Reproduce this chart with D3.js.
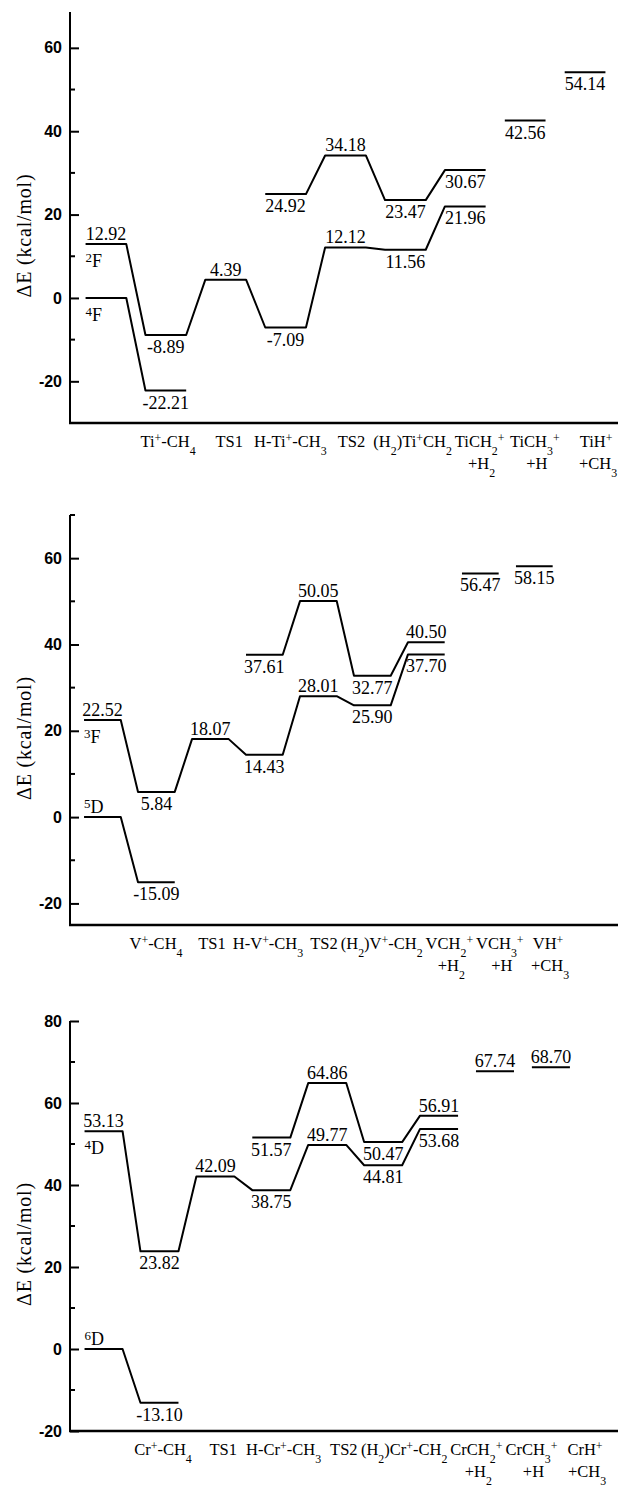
<!DOCTYPE html>
<html>
<head>
	<meta charset="utf-8">
	<title>Potential energy profiles M+ + CH4</title>
	<style>
		html, body { margin: 0; background: white; }
		svg { display: block; }
		text { font-family: "Liberation Serif", "Times New Roman", serif; fill: black; }
		.tick text { font-family: "Liberation Sans", Arial, sans-serif; font-weight: bold; }
	</style>
	<script src="https://cdn.jsdelivr.net/npm/d3@7"></script>
</head>
<body>
	<svg id="svg" width="626" height="1489"></svg>
	<script>
		// ---- data (kcal/mol), one array per path, slot = position along reaction coordinate
		const tiLow = [0, -22.21];                                     // 4F, slots 0-1
		const tiMid = [12.92, -8.89, 4.39, -7.09, 12.12, 11.56, 21.96];  // 2F, slots 0-6
		const tiHigh = [24.92, 34.18, 23.47, 30.67];                    // slots 3-6
		const tiProd = [42.56, 54.14];                                  // slots 7-8

		const vLow = [0, -15.09];
		const vMid = [22.52, 5.84, 18.07, 14.43, 28.01, 25.90, 37.70];
		const vHigh = [37.61, 50.05, 32.77, 40.50];
		const vProd = [56.47, 58.15];

		const crLow = [0, -13.10];
		const crMid = [53.13, 23.82, 42.09, 38.75, 49.77, 44.81, 53.68];
		const crHigh = [51.57, 64.86, 50.47, 56.91];
		const crProd = [67.74, 68.70];

		const tiNames = ['Ti^+-CH_4', 'TS1', 'H-Ti^+-CH_3', 'TS2', '(H_2)Ti^+CH_2', 'TiCH_2^+', 'TiCH_3^+', 'TiH^+'];
		const vNames = ['V^+-CH_4', 'TS1', 'H-V^+-CH_3', 'TS2', '(H_2)V^+-CH_2', 'VCH_2^+', 'VCH_3^+', 'VH^+'];
		const crNames = ['Cr^+-CH_4', 'TS1', 'H-Cr^+-CH_3', 'TS2', '(H_2)Cr^+-CH_2', 'CrCH_2^+', 'CrCH_3^+', 'CrH^+'];
		const secondRow = ['', '', '', '', '', '+H_2', '+H', '+CH_3'];

		const tiStates = ['^4F', '^2F'];
		const vStates = ['^5D', '^3F'];
		const crStates = ['^6D', '^4D'];

		// ---- layout: where each value label goes (a = above the level, b = below)
		const lowSide = [null, 'b'];
		const tiMidSide = ['a', 'b', 'a', 'b', 'a', 'b', 'b'];
		const tiHighSide = ['b', 'a', 'b', 'b'];
		const vMidSide = ['a', 'b', 'a', 'b', 'a', 'b', 'b'];
		const vHighSide = ['b', 'a', 'b', 'a'];
		const crMidSide = ['a', 'b', 'a', 'b', 'a', 'b', 'b'];
		const crHighSide = ['b', 'a', 'b', 'a'];

		const panels = [
			{
				top: 12, bottom: 423, yDomain: [-30, 68.6], xDomain: [-0.6, 8.55], labelRange: [168, 596],
				names: tiNames, states: tiStates, stateSide: ['b', 'b'],
				paths: [
					{ start: 0, values: tiLow, side: lowSide },
					{ start: 0, values: tiMid, side: tiMidSide },
					{ start: 3, values: tiHigh, side: tiHighSide },
					{ start: 7, values: tiProd, side: ['b', 'b'], isolated: true }
				],
				majors: [-20, 0, 20, 40, 60], minors: [-10, 10, 30, 50]
			},
			{
				top: 515, bottom: 925, yDomain: [-25, 70], xDomain: [-0.6, 9.55], labelRange: [156, 548],
				names: vNames, states: vStates, stateSide: ['a', 'b'],
				paths: [
					{ start: 0, values: vLow, side: lowSide },
					{ start: 0, values: vMid, side: vMidSide },
					{ start: 3, values: vHigh, side: vHighSide },
					{ start: 7, values: vProd, side: ['b', 'b'], isolated: true }
				],
				majors: [-20, 0, 20, 40, 60], minors: [-10, 10, 30, 50, 70]
			},
			{
				top: 1021, bottom: 1431, yDomain: [-20, 80], xDomain: [-0.6, 9.2], labelRange: [163, 585],
				names: crNames, states: crStates, stateSide: ['a', 'b'],
				paths: [
					{ start: 0, values: crLow, side: lowSide },
					{ start: 0, values: crMid, side: crMidSide },
					{ start: 3, values: crHigh, side: crHighSide },
					{ start: 7, values: crProd, side: ['a', 'a'], isolated: true }
				],
				majors: [-20, 0, 20, 40, 60, 80], minors: [-10, 10, 30, 50, 70]
			}
		];

		const svg = d3.select('#svg');
		const AXIS_X = 70, AXIS_END = 618, HALF = 0.34;
		const VALUE_SIZE = 18, NAME_SIZE = 16.5;

		// writes "Ti^+-CH_4" style strings as tspans (^ = superscript, _ = subscript)
		function richText(sel, str, size) {
			const parts = [];
			for (let i = 0; i < str.length; i++) {
				const c = str[i];
				if ((c === '^' || c === '_') && i + 1 < str.length) {
					parts.push({ t: str[i + 1], k: c });
					i++;
				} else if (parts.length && parts[parts.length - 1].k === 'n') {
					parts[parts.length - 1].t += c;
				} else {
					parts.push({ t: c, k: 'n' });
				}
			}
			let shift = 0;
			parts.forEach(p => {
				const target = p.k === '^' ? -0.3 * size : p.k === '_' ? 0.5 * size : 0;
				sel.append('tspan')
					.attr('dy', target - shift)
					.attr('font-size', p.k === 'n' ? size : size * 0.72)
					.text(p.t);
				shift = target;
			});
		}

		panels.forEach(p => {
			const g = svg.append('g');
			const x = d3.scaleLinear().domain(p.xDomain).range([AXIS_X, AXIS_END]);
			const y = d3.scaleLinear().domain(p.yDomain).range([p.bottom, p.top]);
			const xl = d3.scalePoint().domain(p.names).range(p.labelRange);

			// y axis, ticks pointing inward
			const yAxis = d3.axisLeft(y).tickValues(p.majors).tickSize(-9).tickPadding(8).tickFormat(d => String(d));
			const ay = g.append('g').attr('transform', `translate(${AXIS_X},0)`).call(yAxis);
			ay.select('.domain').attr('stroke-width', 2).attr('d', `M0,${p.top}V${p.bottom}`);
			ay.selectAll('.tick line').attr('stroke-width', 2);
			ay.selectAll('.tick text').attr('font-size', 16);
			g.selectAll('.minor').data(p.minors).join('line')
				.attr('x1', AXIS_X).attr('x2', AXIS_X + 5)
				.attr('y1', d => y(d)).attr('y2', d => y(d))
				.attr('stroke', 'black').attr('stroke-width', 2);

			// x axis: plain thick line
			g.append('line')
				.attr('x1', AXIS_X - 1).attr('x2', AXIS_END)
				.attr('y1', p.bottom).attr('y2', p.bottom)
				.attr('stroke', 'black').attr('stroke-width', 2.5);

			// y title
			g.append('text')
				.attr('transform', `translate(31,${(p.top + p.bottom) / 2 + 18}) rotate(-90)`)
				.attr('text-anchor', 'middle')
				.attr('font-size', 20)
				.attr('letter-spacing', 0.8)
				.text('ΔE (kcal/mol)');

			// category labels, packed left to right so they never overlap
			let prevRight = 0;
			p.names.forEach((n, i) => {
				const t = g.append('text').attr('y', p.bottom + 24);
				richText(t, n, NAME_SIZE);
				const w = t.node().getComputedTextLength();
				const left = Math.max(xl(n) - w / 2, prevRight + 3);
				t.attr('x', left);
				prevRight = left + w;
				if (secondRow[i]) {
					const t2 = g.append('text').attr('x', left + w / 2 + 2).attr('y', p.bottom + 46).attr('text-anchor', 'middle');
					richText(t2, secondRow[i], NAME_SIZE);
				}
			});

			// energy levels and connectors
			p.paths.forEach(path => {
				const pts = [];
				path.values.forEach((v, i) => {
					const s = path.start + i;
					pts.push([x(s - HALF), y(v)], [x(s + HALF), y(v)]);
				});
				if (path.isolated) {
					path.values.forEach((v, i) => {
						const s = path.start + i;
						g.append('line').attr('x1', x(s - HALF)).attr('x2', x(s + HALF))
							.attr('y1', y(v)).attr('y2', y(v))
							.attr('stroke', 'black').attr('stroke-width', 2);
					});
				} else {
					g.append('path').attr('d', d3.line()(pts))
						.attr('fill', 'none').attr('stroke', 'black').attr('stroke-width', 2)
						.attr('stroke-linejoin', 'round');
				}
				path.values.forEach((v, i) => {
					const side = path.side[i];
					if (!side) return;
					const s = path.start + i;
					g.append('text')
						.attr('x', x(s))
						.attr('y', side === 'a' ? y(v) - 4 : y(v) + 18)
						.attr('text-anchor', 'middle')
						.attr('font-size', VALUE_SIZE)
						.text(v.toFixed(2));
				});
			});

			// spin state labels at the start of the two entrance lines
			p.states.forEach((st, i) => {
				const v = p.paths[i].values[0];
				const t = g.append('text')
					.attr('x', x(-HALF))
					.attr('y', p.stateSide[i] === 'a' ? y(v) - 4 : y(v) + 23);
				richText(t, st, VALUE_SIZE);
			});
		});
	</script>
</body>
</html>
